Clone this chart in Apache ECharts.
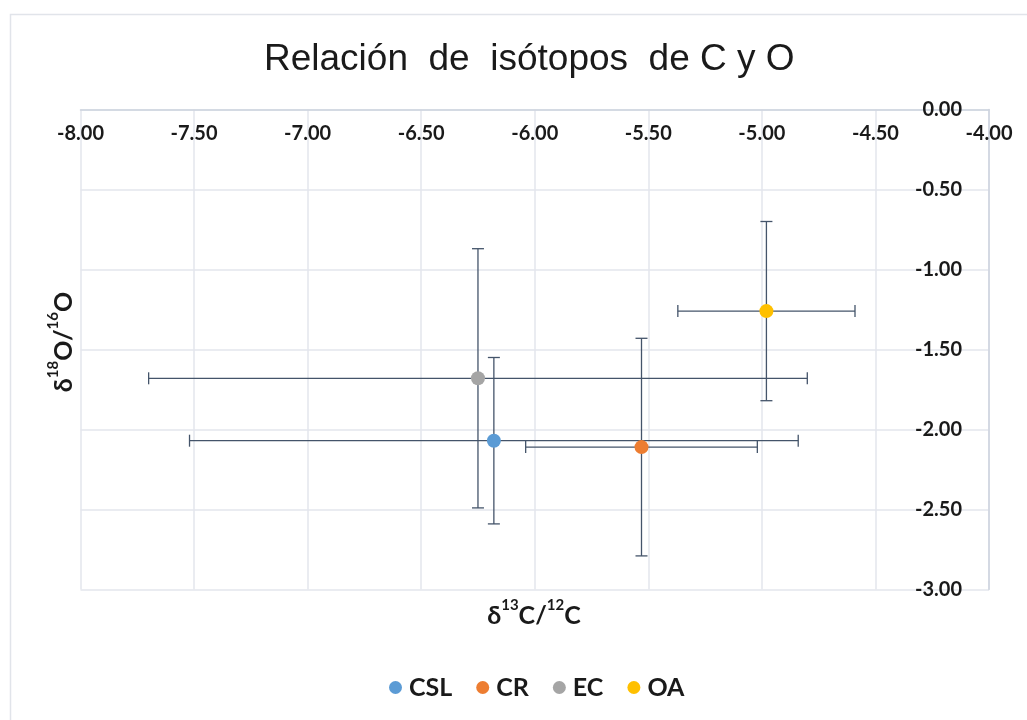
<!DOCTYPE html>
<html>
<head>
<meta charset="utf-8">
<script src="https://cdn.jsdelivr.net/npm/echarts@6/dist/echarts.min.js"></script>
<style>
html,body{margin:0;padding:0;background:#fff;}
#chart{width:1027px;height:720px;}
</style>
</head>
<body>
<div id="chart"></div>
<script>
// ---- data ----
var seriesNames = ['CSL', 'CR', 'EC', 'OA'];
var carbonValues = [-6.18, -5.53, -6.25, -4.98];   // δ13C/12C (x)
var oxygenValues = [-2.07, -2.11, -1.68, -1.26];   // δ18O/16O (y)
var carbonErrors = [1.34, 0.51, 1.45, 0.39];
var oxygenErrors = [0.52, 0.68, 0.81, 0.56];
var seriesColors = ['#5b9bd5', '#ed7d31', '#a5a5a5', '#ffc000'];
var xTickMin = -8, xTickMax = -4, xTickStep = 0.5;
var yTickMin = -3, yTickMax = 0, yTickStep = 0.5;

var chart = echarts.init(document.getElementById('chart'), null, {renderer: 'canvas'});

var errData = seriesNames.map(function (n, i) {
  return [carbonValues[i], oxygenValues[i], carbonErrors[i], oxygenErrors[i]];
});

var errColor = '#44546a';
var cap = 6;

var scatterSeries = seriesNames.map(function (n, i) {
  return {
    name: n,
    type: 'scatter',
    symbol: 'circle',
    symbolSize: 14,
    z: 5,
    itemStyle: {color: seriesColors[i], opacity: 1},
    data: [[carbonValues[i], oxygenValues[i]]]
  };
});

var labelFont = {fontFamily: 'Lato', fontWeight: 'bold', fontSize: 20, color: '#1a1a1a'};
var titleRich = {
  b: {fontFamily: 'Lato', fontWeight: 'bold', fontSize: 25, fill: '#1a1a1a', verticalAlign: 'bottom', lineHeight: 31},
  s: {fontFamily: 'Lato', fontWeight: 'bold', fontSize: 15, fill: '#1a1a1a', verticalAlign: 'top', lineHeight: 31}
};

chart.setOption({
  animation: false,
  backgroundColor: '#fff',
  title: {
    text: 'Relación  de  isótopos  de C y O',
    left: 259,
    top: 36,
    textStyle: {fontFamily: 'Liberation Sans', fontSize: 37, fontWeight: 'normal', color: '#1a1a1a'}
  },
  graphic: [
    {type: 'rect', shape: {x: 10.5, y: 14.5, width: 1100, height: 800}, style: {fill: null, stroke: '#e1e4ea', lineWidth: 1.5}, silent: true, z: -1},
    {
      type: 'text', x: 534, y: 613,
      style: {
        text: '{b|δ}{s|13}{b|C/}{s|12}{b|C}',
        align: 'center', verticalAlign: 'middle',
        rich: titleRich
      }
    },
    {
      type: 'text', x: 61, y: 342, rotation: Math.PI / 2,
      style: {
        text: '{b|δ}{s|18}{b|O/}{s|16}{b|O}',
        align: 'center', verticalAlign: 'middle',
        rich: titleRich
      }
    }
  ],
  legend: {
    data: seriesNames,
    top: 670,
    left: 384,
    icon: 'circle',
    itemWidth: 13,
    itemHeight: 13,
    itemGap: 24,
    textStyle: {fontFamily: 'Lato', fontWeight: 'bold', fontSize: 25, color: '#1a1a1a', padding: [0, 0, 0, 2]}
  },
  grid: {left: 80.5, right: 38, top: 109.5, bottom: 130.5, containLabel: false},
  xAxis: {
    type: 'value',
    position: 'top',
    min: xTickMin, max: xTickMax, interval: xTickStep,
    axisLine: {show: true, onZero: false, lineStyle: {color: '#cdd3de', width: 1.5}},
    axisTick: {show: false},
    axisLabel: Object.assign({inside: true, margin: 14, formatter: function (v) { return v.toFixed(2); }}, labelFont),
    splitLine: {show: true, lineStyle: {color: '#e3e6ed', width: 1.5}}
  },
  yAxis: {
    type: 'value',
    position: 'right',
    min: yTickMin, max: yTickMax, interval: yTickStep,
    axisLine: {show: true, onZero: false, lineStyle: {color: '#cdd3de', width: 1.5}},
    axisTick: {show: false},
    axisLabel: Object.assign({inside: true, margin: 27, formatter: function (v) { return v.toFixed(2); }}, labelFont),
    splitLine: {show: true, lineStyle: {color: '#e3e6ed', width: 1.5}}
  },
  series: [{
    name: 'errorbars',
    type: 'custom',
    z: 3,
    silent: true,
    clip: false,
    data: errData,
    encode: {x: 0, y: 1},
    renderItem: function (params, api) {
      var x = api.value(0), y = api.value(1), ex = api.value(2), ey = api.value(3);
      var l = api.coord([x - ex, y]), r = api.coord([x + ex, y]);
      var t = api.coord([x, y + ey]), b = api.coord([x, y - ey]);
      var st = {stroke: errColor, lineWidth: 1.3};
      function line(x1, y1, x2, y2) {
        return {type: 'line', shape: {x1: x1, y1: y1, x2: x2, y2: y2}, style: st};
      }
      return {
        type: 'group',
        children: [
          line(l[0], l[1], r[0], r[1]),
          line(l[0], l[1] - cap, l[0], l[1] + cap),
          line(r[0], r[1] - cap, r[0], r[1] + cap),
          line(t[0], t[1], b[0], b[1]),
          line(t[0] - cap, t[1], t[0] + cap, t[1]),
          line(b[0] - cap, b[1], b[0] + cap, b[1])
        ]
      };
    }
  }].concat(scatterSeries)
});
</script>
</body>
</html>
